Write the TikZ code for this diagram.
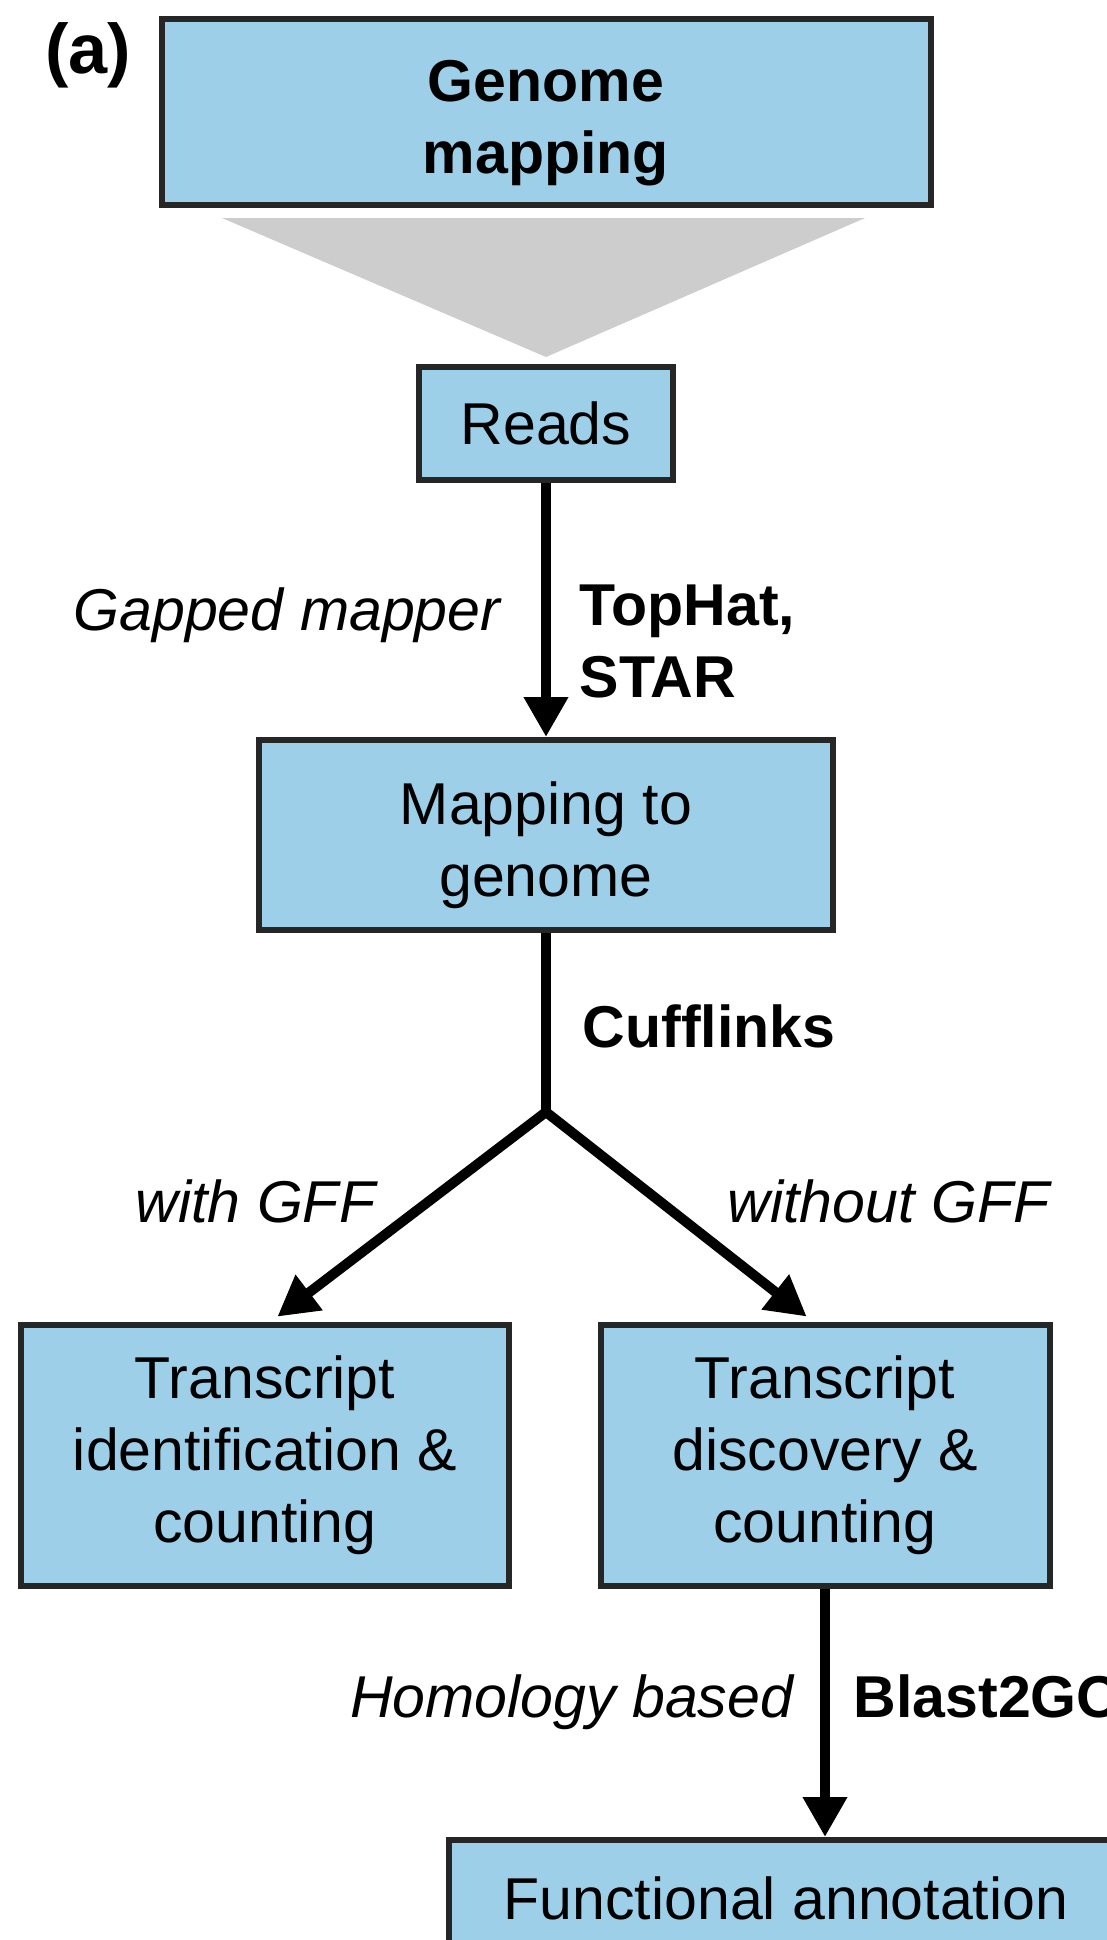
\documentclass[tikz,border=0pt]{standalone}
\usepackage{fontspec}
\setmainfont{Liberation Sans}
\usetikzlibrary{arrows.meta}
\definecolor{boxblue}{RGB}{157,207,233}
\definecolor{funnelgray}{RGB}{205,205,205}
\newcommand{\flowfont}{\fontsize{16.8pt}{20.5pt}\selectfont}
\newcommand{\lowstrut}{\rule{0pt}{18pt}}

\begin{document}
\begin{tikzpicture}[x=0.1mm, y=-0.1mm,
    box/.style={draw=black!85, fill=boxblue, line width=0.6mm, align=center, inner sep=0pt, font=\flowfont},
    tool/.style={font=\flowfont\bfseries, inner sep=0pt},
    how/.style={font=\flowfont\itshape, inner sep=0pt},
    flow/.style={line width=1mm},
    >={Triangle[width=4.2mm,length=4mm]}]
    % Bildbereich
    \useasboundingbox (0,0) rectangle (1107,1940);
    \clip (0,0) rectangle (1107,1940);
    % Trichter
    \fill[funnelgray] (222,218) -- (865,218) -- (546,357) -- cycle;
    % Kaesten
    \node[box, font=\flowfont\bfseries, minimum width=76.9mm, minimum height=18.6mm] (genome) at (546,112) {\lowstrut Genome\\mapping};
    \node[box, minimum width=25.4mm, minimum height=11.3mm] (reads) at (546,423) {Reads};
    \node[box, minimum width=57.4mm, minimum height=19mm] (mapping) at (546,835) {\lowstrut Mapping to\\genome};
    \node[box, minimum width=48.8mm, minimum height=26.1mm] (ident) at (265,1455) {Transcript\\identification \&\\counting};
    \node[box, minimum width=44.9mm, minimum height=26.1mm] (disc) at (825,1455) {Transcript\\discovery \&\\counting};
    \node[box, minimum width=67.4mm, minimum height=11.6mm] (func) at (786,1898) {Functional annotation};
    % Pfeile
    \coordinate (split) at (546,1112);
    \draw[flow,->] (reads) -- (mapping);
    \draw[flow] (mapping) -- (split);
    \draw[flow,->,shorten >=0.8mm] (split) -- ([xshift=0.6mm]ident.north);
    \draw[flow,->,shorten >=0.8mm] (split) -- ([xshift=-1.2mm]disc.north);
    \draw[flow,->] (disc.south) -- (disc.south |- func.north);
    % Beschriftung
    \node[tool, font=\fontsize{20pt}{24pt}\selectfont\bfseries, anchor=base] (panel) at (88,73) {(a)};
    \node[how, anchor=base east] (gapped) at (501,630) {Gapped mapper};
    \node[tool, anchor=north west, align=left] (tophat) at (579,584) {TopHat,\\STAR};
    \node[tool, anchor=base west] (cuff) at (582,1047) {Cufflinks};
    \node[how, anchor=base west] (withgff) at (135,1222) {with GFF};
    \node[how, anchor=base west] (withoutgff) at (727,1222) {without GFF};
    \node[how, anchor=base east] (homol) at (794,1717) {Homology based};
    \node[tool, anchor=base west] (blast) at (853,1717) {Blast2GO};
\end{tikzpicture}
\end{document}
